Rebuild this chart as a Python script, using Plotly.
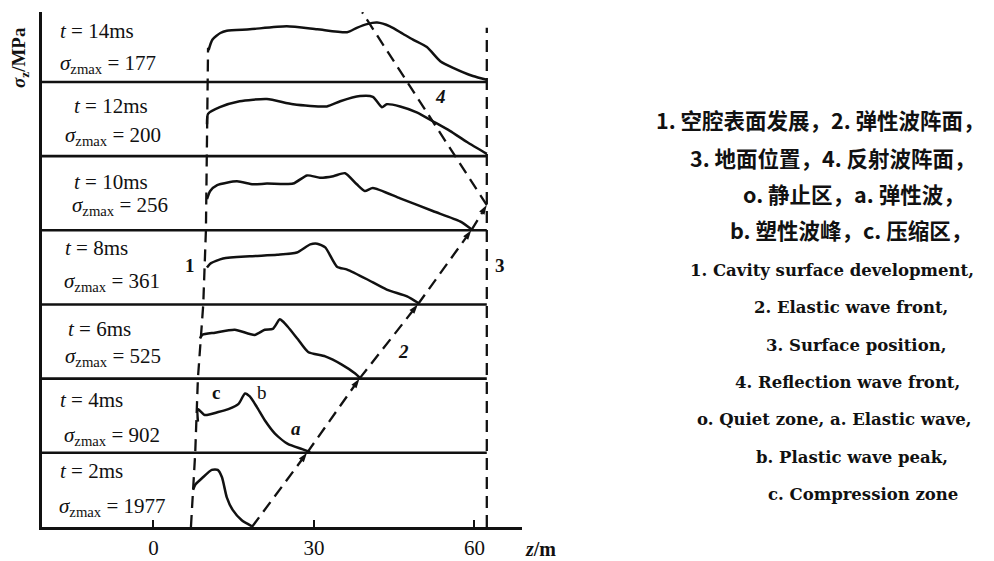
import plotly.graph_objects as go

# ---------------- data ----------------
times_ms = [2, 4, 6, 8, 10, 12, 14]
sigma_zmax = [1977, 902, 525, 361, 256, 200, 177]

# stress profiles: z (m) and relative stress sigma_z / panel height
z_t2 = [7.4, 7.8, 9.1, 10.9, 12.0, 12.8, 13.7, 14.8, 16.5, 18.4]
s_t2 = [0.50, 0.57, 0.66, 0.77, 0.77, 0.67, 0.40, 0.23, 0.09, 0.01]

z_t4 = [8.3, 8.3, 9.6, 12.1, 14.0, 15.9, 17.1, 18.0, 19.3, 20.8, 22.7, 25.1, 27.8, 29.3]
s_t4 = [0.42, 0.59, 0.51, 0.55, 0.59, 0.66, 0.80, 0.76, 0.62, 0.44, 0.26, 0.12, 0.05, 0.01]

z_t6 = [8.7, 9.1, 11.5, 15.2, 18.9, 20.8, 22.3, 23.6, 24.2, 25.1, 27.0, 28.9, 32.1, 35.2, 37.7, 38.6]
s_t6 = [0.54, 0.59, 0.62, 0.66, 0.59, 0.66, 0.67, 0.80, 0.77, 0.70, 0.53, 0.36, 0.30, 0.19, 0.07, 0.01]

z_t8 = [10.0, 10.6, 13.0, 18.0, 23.1, 26.8, 29.3, 30.6, 32.1, 34.3, 36.2, 39.9, 43.6, 47.4, 49.5]
s_t8 = [0.50, 0.55, 0.62, 0.65, 0.67, 0.70, 0.81, 0.82, 0.77, 0.51, 0.47, 0.34, 0.20, 0.11, 0.02]

z_t10 = [10.0, 10.6, 11.9, 15.6, 18.6, 21.2, 26.1, 28.7, 31.1, 33.6, 35.8, 38.0, 39.5, 41.0, 46.1, 52.2, 57.3, 59.5]
s_t10 = [0.42, 0.53, 0.61, 0.66, 0.62, 0.63, 0.63, 0.74, 0.71, 0.73, 0.77, 0.62, 0.53, 0.57, 0.43, 0.26, 0.12, 0.01]

z_t12 = [10.0, 10.2, 12.4, 16.1, 21.2, 26.1, 32.4, 34.9, 38.6, 41.0, 42.7, 43.6, 46.1, 49.2, 52.2, 55.4, 58.6, 62.3]
s_t12 = [0.43, 0.57, 0.66, 0.74, 0.77, 0.70, 0.67, 0.74, 0.81, 0.80, 0.66, 0.70, 0.67, 0.59, 0.47, 0.34, 0.19, 0.03]

z_t14 = [10.3, 11.0, 12.5, 13.7, 18.0, 24.9, 30.6, 36.2, 38.0, 39.9, 41.8, 44.2, 46.6, 48.5, 51.1, 53.6, 56.0, 59.7, 62.3]
s_t14 = [0.43, 0.57, 0.66, 0.69, 0.71, 0.75, 0.71, 0.67, 0.73, 0.78, 0.80, 0.75, 0.65, 0.57, 0.47, 0.28, 0.19, 0.08, 0.03]

profiles_z = [z_t2, z_t4, z_t6, z_t8, z_t10, z_t12, z_t14]
profiles_s = [s_t2, s_t4, s_t6, s_t8, s_t10, s_t12, s_t14]

# guide lines (y in panel units: panel k baseline at y = k)
cavity_z = [7.0, 7.8, 8.3, 9.3, 9.8, 10.0, 10.2, 10.2]      # 1
cavity_y = [0, 1, 2, 3, 4, 5, 6, 6.46]
elastic_z = [18.4, 28.7, 38.5, 49.4, 59.4, 62.3]           # 2
elastic_y = [0, 1, 2, 3, 4, 4.34]
surface_z = [62.3, 62.3]                                   # 3
surface_y = [0, 6.73]
reflect_z = [62.3, 47.4, 39.0]                             # 4
reflect_y = [4.34, 6, 6.94]

marker_labels = ["1", "2", "3", "4", "a", "b", "c"]
marker_z = [6.8, 46.8, 64.8, 53.6, 26.6, 20.3, 11.7]
marker_y = [3.53, 2.36, 3.53, 5.80, 1.33, 1.81, 1.81]

x_ticks = [0, 30, 60]

legend_lines = [
    "1. 空腔表面发展，2. 弹性波阵面，",
    "3. 地面位置，4. 反射波阵面，",
    "o. 静止区，a. 弹性波，",
    "b. 塑性波峰，c. 压缩区，",
    "1. Cavity surface development,",
    "2. Elastic wave front,",
    "3. Surface position,",
    "4. Reflection wave front,",
    "o. Quiet zone, a. Elastic wave,",
    "b. Plastic wave peak,",
    "c. Compression zone",
]

# ---------------- layout geometry (screen pixels) ----------------
W, H = 994, 561
OFF = 8                      # page offset of the figure inside the browser window
PX_L, PX_T, PX_R, PX_B = 42, 12, 522, 527   # plot area on screen
L, T = PX_L - OFF, PX_T - OFF
pw, ph = PX_R - PX_L, PX_B - PX_T
R, B = W - L - pw, H - T - ph
XR = [-20.84, 68.88]
YR = [0, 6.943]
PANEL_PX = ph / YR[1]

legend_cx = [820, 833, 854, 851, 832, 851, 856, 847, 834, 852, 863]
legend_cy = [120, 157, 193, 230, 270, 307, 345, 382, 419, 457, 494]
t_left_px = [58, 58, 66, 63, 72, 72, 58]
s_left_px = [57, 62, 63, 62, 70, 63, 58]
t_up_px = [56, 53, 50, 56, 48, 50, 51]
s_up_px = [20, 17, 22, 22, 24, 20, 18]


def px2z(sx):
    return XR[0] + (sx - PX_L) / pw * (XR[1] - XR[0])


def paper_x(sx):
    return (sx - PX_L) / pw


def paper_y(sy):
    return (PX_B - sy) / ph


BLACK = "#111111"
SERIF = "Liberation Serif, Times New Roman, serif"

fig = go.Figure()

# panel baselines
for k in range(1, len(times_ms)):
    fig.add_shape(type="line", xref="x", yref="y", x0=XR[0], x1=62.3, y0=k, y1=k,
                  line=dict(color=BLACK, width=2.6))

# stress profiles
for k, (zs, ss) in enumerate(zip(profiles_z, profiles_s)):
    fig.add_trace(go.Scatter(x=zs, y=[k + s for s in ss], mode="lines",
                             line=dict(color=BLACK, width=2.5, shape="spline", smoothing=0.6),
                             hoverinfo="skip", showlegend=False))

dash = "12px,7px"
for zs, ys in [(cavity_z, cavity_y), (surface_z, surface_y), (reflect_z, reflect_y)]:
    fig.add_trace(go.Scatter(x=zs, y=ys, mode="lines",
                             line=dict(color=BLACK, width=2.3, dash=dash),
                             hoverinfo="skip", showlegend=False))
fig.add_trace(go.Scatter(x=elastic_z, y=elastic_y, mode="lines+markers",
                         line=dict(color=BLACK, width=2.3, dash=dash),
                         marker=dict(symbol="arrow", size=10, color=BLACK, angleref="previous"),
                         hoverinfo="skip", showlegend=False))

# panel texts
for k, (t, sm) in enumerate(zip(times_ms, sigma_zmax)):
    fig.add_annotation(x=px2z(t_left_px[k]), y=k + t_up_px[k] / PANEL_PX, xref="x", yref="y",
                       xanchor="left", yanchor="middle",
                       text=f"<i>t</i> = {t}ms", showarrow=False,
                       font=dict(family=SERIF, size=21, color=BLACK))
    fig.add_annotation(x=px2z(s_left_px[k]), y=k + s_up_px[k] / PANEL_PX, xref="x", yref="y",
                       xanchor="left", yanchor="middle",
                       text=f"<i>σ</i><sub>zmax</sub> = {sm}", showarrow=False,
                       font=dict(family=SERIF, size=21, color=BLACK))

label_fmt = {"1": "<b>1</b>", "2": "<b><i>2</i></b>", "3": "<b>3</b>", "4": "<b><i>4</i></b>",
             "a": "<b><i>a</i></b>", "b": "b", "c": "<b>c</b>"}
for lab, zx, yy in zip(marker_labels, marker_z, marker_y):
    fig.add_annotation(x=zx, y=yy, xref="x", yref="y", text=label_fmt[lab],
                       showarrow=False, font=dict(family=SERIF, size=19, color=BLACK))

# right-side legend text
for i, (txt, cx, cy) in enumerate(zip(legend_lines, legend_cx, legend_cy)):
    cjk = i < 4
    fig.add_annotation(x=paper_x(cx), y=paper_y(cy), xref="paper", yref="paper",
                       text=f"<b>{txt}</b>", showarrow=False, xanchor="center", yanchor="middle",
                       font=dict(family="Noto Sans CJK SC" if cjk else "DejaVu Serif",
                                 size=21.5 if cjk else 16.5, color=BLACK))

# axis titles
fig.add_annotation(x=paper_x(20), y=paper_y(58), xref="paper", yref="paper",
                   xanchor="center", yanchor="middle",
                   text="<b><i>σ</i><sub>z</sub>/MPa</b>", textangle=-90, showarrow=False,
                   font=dict(family=SERIF, size=19, color=BLACK))
fig.add_annotation(x=paper_x(540), y=paper_y(549), xref="paper", yref="paper",
                   xanchor="center", yanchor="middle",
                   text="<b><i>z</i>/m</b>", showarrow=False,
                   font=dict(family=SERIF, size=20, color=BLACK))

fig.update_layout(
    width=W, height=H, margin=dict(l=L, r=R, t=T, b=B, autoexpand=False),
    paper_bgcolor="white", plot_bgcolor="white", showlegend=False,
    xaxis=dict(range=XR, tickvals=x_ticks, ticktext=[str(v) for v in x_ticks],
               showgrid=False, zeroline=False, showline=True, linecolor=BLACK, linewidth=3,
               ticks="inside", ticklen=7, tickwidth=2, tickcolor=BLACK, automargin=False,
               tickfont=dict(family=SERIF, size=21, color=BLACK), ticklabelstandoff=0),
    yaxis=dict(range=YR, showgrid=False, zeroline=False, showline=True, linecolor=BLACK,
               linewidth=3, showticklabels=False, ticks="", automargin=False),
)

fig.write_html("out.html")
